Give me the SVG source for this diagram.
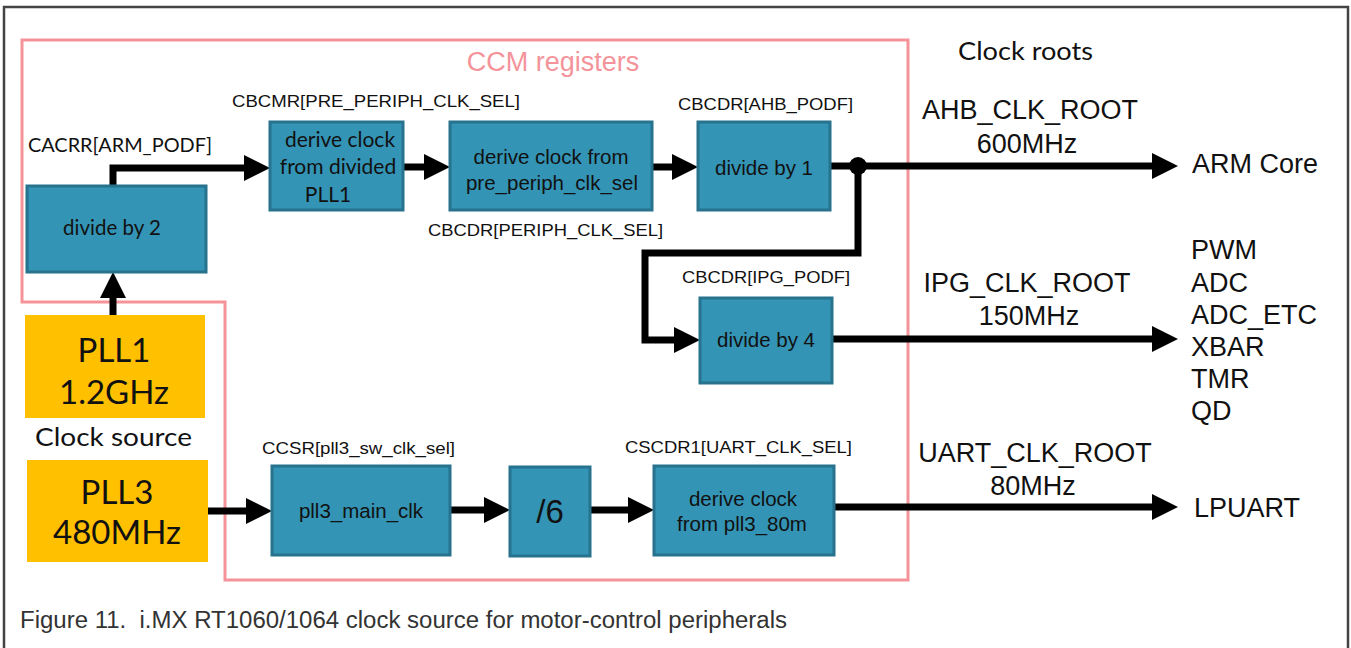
<svg xmlns="http://www.w3.org/2000/svg" width="1351" height="648" viewBox="0 0 1351 648">
<style>
.box{fill:#3494b5;stroke:#27738e;stroke-width:3}
.src{fill:#ffc000}
.wire{fill:none;stroke:#000;stroke-width:7}
.t{font-family:"Liberation Sans",Arial,sans-serif;fill:#111}
.c{font-family:Lato,"Open Sans","Liberation Sans",sans-serif;fill:#111}
.reg{font-size:17px}
.lbl{font-size:20.5px}
.big{font-size:27px}
.mid{text-anchor:middle}
</style>
<defs>
<marker id="ah" markerUnits="userSpaceOnUse" markerWidth="27" markerHeight="28" refX="0" refY="13" orient="auto" viewBox="0 0 27 26">
<path d="M0,0 L26,13 L0,26 z" fill="#000"/>
</marker>
</defs>
<rect x="0" y="0" width="1351" height="648" fill="#fff"/>
<path d="M4,648 V7 H1348 V648" fill="none" stroke="#444" stroke-width="2.5"/>
<path id="ccm" d="M22,40 H908 V580 H225 V302 H22 Z" fill="none" stroke="#f4939a" stroke-width="3"/>
<text class="t mid" x="553" y="71" font-size="27" style="fill:#f4939a">CCM registers</text>
<text class="c" x="958" y="60" font-size="25" textLength="135" lengthAdjust="spacingAndGlyphs">Clock roots</text>

<g id="connectors">
<path class="wire" d="M113,186 V168 H244" marker-end="url(#ah)"/>
<path class="wire" d="M113,316 V298" marker-end="url(#ah)"/>
<path class="wire" d="M403,167 H424" marker-end="url(#ah)"/>
<path class="wire" d="M652,167 H672" marker-end="url(#ah)"/>
<path class="wire" d="M830,166 H1152" marker-end="url(#ah)"/>
<path class="wire" d="M858,166 V253 H645 V340 H674" marker-end="url(#ah)"/>
<circle cx="858" cy="166" r="9" fill="#000"/>
<path class="wire" d="M832,339 H1152" marker-end="url(#ah)"/>
<path class="wire" d="M208,511 H246" marker-end="url(#ah)"/>
<path class="wire" d="M450,510 H484" marker-end="url(#ah)"/>
<path class="wire" d="M590,510 H628" marker-end="url(#ah)"/>
<path class="wire" d="M834,507 H1152" marker-end="url(#ah)"/>
</g>

<g id="div2">
<rect class="box" x="27" y="186" width="179" height="86"/>
<text class="c mid lbl" x="112" y="235">divide by 2</text>
<text class="c" x="28" y="152" font-size="20" textLength="184" lengthAdjust="spacingAndGlyphs">CACRR[ARM_PODF]</text>
</g>
<g id="derivePLL1">
<rect class="box" x="270" y="122" width="133" height="88"/>
<text class="c mid" x="340" y="147" font-size="21">derive clock</text>
<text class="c mid" x="338" y="174" font-size="21">from divided</text>
<text class="c mid" x="328" y="202" font-size="21">PLL1</text>
<text class="t reg" x="232" y="107" textLength="288" lengthAdjust="spacingAndGlyphs">CBCMR[PRE_PERIPH_CLK_SEL]</text>
</g>
<g id="derivePre">
<rect class="box" x="450" y="122" width="202" height="88"/>
<text class="t mid lbl" x="551" y="164">derive clock from</text>
<text class="t mid lbl" x="552" y="190">pre_periph_clk_sel</text>
<text class="t reg" x="428" y="236" textLength="235" lengthAdjust="spacingAndGlyphs">CBCDR[PERIPH_CLK_SEL]</text>
</g>
<g id="div1">
<rect class="box" x="698" y="122" width="132" height="88"/>
<text class="t mid lbl" x="764" y="175">divide by 1</text>
<text class="t reg" x="678" y="110" textLength="175" lengthAdjust="spacingAndGlyphs">CBCDR[AHB_PODF]</text>
</g>
<g id="div4">
<rect class="box" x="700" y="298" width="132" height="85"/>
<text class="t mid lbl" x="766" y="347">divide by 4</text>
<text class="t reg" x="682" y="283" textLength="168" lengthAdjust="spacingAndGlyphs">CBCDR[IPG_PODF]</text>
</g>
<g id="pll1">
<rect class="src" x="25" y="315" width="180" height="103"/>
<text class="c mid" x="114" y="362" font-size="33">PLL1</text>
<text class="c mid" x="114" y="404" font-size="33">1.2GHz</text>
</g>
<text class="c" x="35" y="446" font-size="25" textLength="157" lengthAdjust="spacingAndGlyphs">Clock source</text>
<g id="pll3">
<rect class="src" x="27" y="460" width="181" height="102"/>
<text class="c mid" x="117" y="504" font-size="33">PLL3</text>
<text class="c mid" x="117" y="544" font-size="33">480MHz</text>
</g>
<g id="pll3main">
<rect class="box" x="272" y="466" width="178" height="89"/>
<text class="t mid lbl" x="361" y="518">pll3_main_clk</text>
<text class="t reg" x="262" y="454" textLength="193" lengthAdjust="spacingAndGlyphs">CCSR[pll3_sw_clk_sel]</text>
</g>
<g id="div6">
<rect class="box" x="510" y="467" width="80" height="89"/>
<text class="t mid" x="550" y="523" font-size="33">/6</text>
</g>
<g id="derive80m">
<rect class="box" x="654" y="466" width="180" height="89"/>
<text class="t mid lbl" x="743" y="506">derive clock</text>
<text class="t mid lbl" x="742" y="531">from pll3_80m</text>
<text class="t reg" x="625" y="453" textLength="227" lengthAdjust="spacingAndGlyphs">CSCDR1[UART_CLK_SEL]</text>
</g>

<g id="roots">
<text class="t big mid" x="1030" y="119">AHB_CLK_ROOT</text>
<text class="t big mid" x="1027" y="153">600MHz</text>
<text class="t big mid" x="1027" y="292">IPG_CLK_ROOT</text>
<text class="t big mid" x="1029" y="325">150MHz</text>
<text class="t big mid" x="1035" y="462">UART_CLK_ROOT</text>
<text class="t big mid" x="1033" y="495">80MHz</text>
</g>
<g id="arm"><text class="t big" x="1192" y="173">ARM Core</text></g>
<g id="periph">
<text class="t big" x="1191" y="259">PWM</text>
<text class="t big" x="1191" y="292">ADC</text>
<text class="t big" x="1191" y="324">ADC_ETC</text>
<text class="t big" x="1191" y="356">XBAR</text>
<text class="t big" x="1191" y="388">TMR</text>
<text class="t big" x="1191" y="420">QD</text>
</g>
<g id="lpuart"><text class="t big" x="1194" y="517">LPUART</text></g>
<text x="20" y="628" font-family="Liberation Sans, Arial, sans-serif" font-size="23" fill="#333" xml:space="preserve" textLength="767" lengthAdjust="spacingAndGlyphs">Figure 11.  i.MX RT1060/1064 clock source for motor-control peripherals</text>
</svg>
